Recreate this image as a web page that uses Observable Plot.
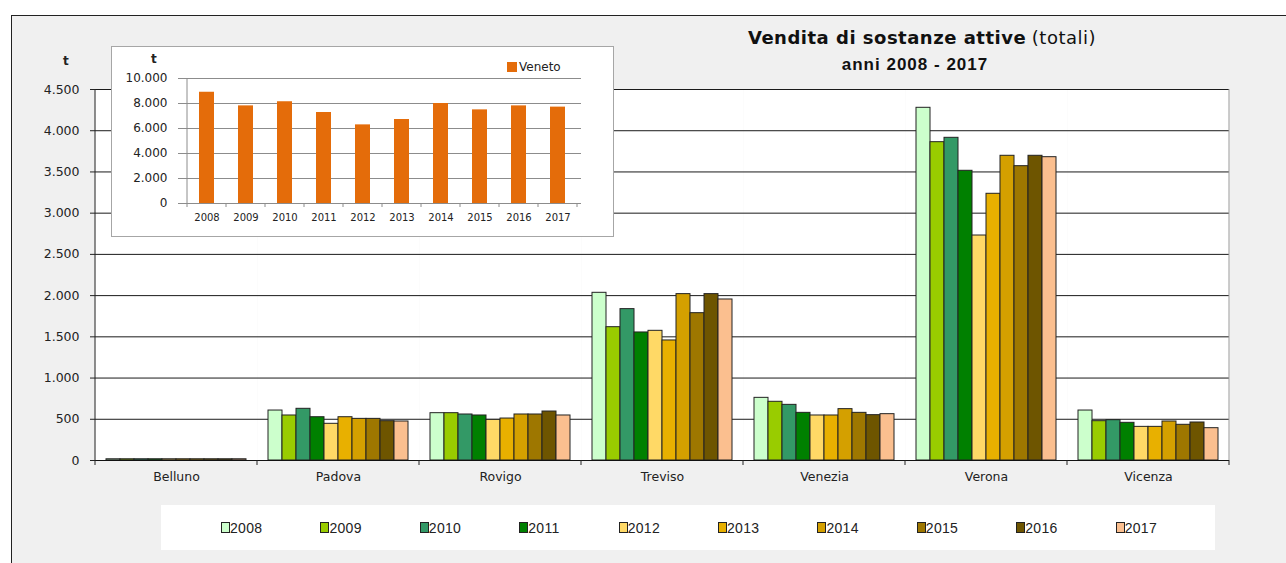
<!DOCTYPE html>
<html><head><meta charset="utf-8">
<script src="https://cdn.jsdelivr.net/npm/d3@7"></script>
<script src="https://cdn.jsdelivr.net/npm/@observablehq/plot@0.6"></script>
<style>
body{margin:0;background:#fff;}
#root{position:relative;width:1286px;height:563px;overflow:hidden;background:#fff;font-family:"DejaVu Sans",sans-serif;color:#222;}
#frame{position:absolute;left:11px;top:15px;right:-5px;bottom:-5px;border-left:1px solid #222;border-top:1px solid #222;background:#f0f0f0;}
.abs{position:absolute;white-space:nowrap;line-height:1;}
#main{position:absolute;left:0;top:0;}
#inset{position:absolute;left:111px;top:46px;border:1px solid #a6a6a6;}
#legend{position:absolute;left:161px;top:505px;width:1054px;height:45px;background:#fff;display:flex;align-items:center;padding-left:60px;box-sizing:border-box;}
.li{width:100.4px;display:flex;align-items:center;font-family:"Liberation Sans",sans-serif;font-size:14px;letter-spacing:0.3px;color:#222;}
.sw{width:7px;height:9px;border:1px solid #222;margin-right:0px;}
</style></head><body>
<div id="root"><div id="frame"></div></div>
<script>
const provinces = ["Belluno","Padova","Rovigo","Treviso","Venezia","Verona","Vicenza"];
const years = ["2008","2009","2010","2011","2012","2013","2014","2015","2016","2017"];
const belluno = [15,15,15,15,15,15,15,15,15,15];
const padova  = [606,546,627,525,445,525,505,505,477,473];
const rovigo  = [574,574,558,546,493,509,558,558,594,546];
const treviso = [2034,1617,1836,1553,1573,1456,2018,1787,2018,1953];
const venezia = [760,712,675,578,546,546,623,578,550,562];
const verona  = [4278,3861,3914,3514,2729,3235,3696,3570,3696,3679];
const vicenza = [606,477,489,457,408,408,473,433,461,392];
const veneto  = [8900,7810,8140,7280,6290,6720,8000,7490,7810,7710];
const yearColors = ["#ccffcc","#99cc00","#339966","#008000","#ffd966","#e8b000","#d4a000","#9e7700","#6e5500","#fbbf8f"];
const mainTicks = [0,500,1000,1500,2000,2500,3000,3500,4000,4500];
const insetTicks = [0,2000,4000,6000,8000,10000];
const titleText = "Vendita di sostanze attive";
const titleNote = "(totali)";
const subtitleText = "anni 2008 - 2017";
const unitLabel = "t";
const insetSeriesName = "Veneto";

const seriesByProv = [belluno,padova,rovigo,treviso,venezia,verona,vicenza];
const rows = [];
provinces.forEach((p,i)=>seriesByProv[i].forEach((v,j)=>rows.push({prov:p,year:years[j],value:v})));
const venetoRows = years.map((y,j)=>({year:y,value:veneto[j]}));
const fmt = d => d3.format(",")(d).replace(/,/g,".");

const root = document.getElementById("root");

const main = Plot.plot({
  width:1286, height:563,
  marginLeft:94, marginRight:57, marginTop:89, marginBottom:103,
  style:{background:"transparent", fontFamily:"DejaVu Sans", fontSize:"12.5px", color:"#222", overflow:"visible"},
  fx:{domain:provinces, paddingInner:0, paddingOuter:0, label:null, axis:null},
  x:{domain:years, paddingInner:0, paddingOuter:0.75, axis:null},
  y:{domain:[0,4500], label:null},
  color:{domain:years, range:yearColors},
  marks:[
    Plot.frame({fill:"white", stroke:"none"}),
    Plot.gridY(mainTicks, {stroke:"#1a1a1a", strokeOpacity:1}),
    Plot.barY(rows, {fx:"prov", x:"year", y:"value", fill:"year", stroke:"#222", strokeWidth:1}),
    Plot.ruleY([0], {stroke:"#111"}),
    Plot.axisY(mainTicks, {tickFormat:fmt, tickSize:5, tickPadding:11, stroke:"#222", label:null}),
    Plot.axisFx({anchor:"bottom", tickSize:0, tickPadding:12, label:null})
  ]
});
main.id = "main";
root.appendChild(main);
{
  const fxS = main.scale("fx"), yS = main.scale("y");
  const g = d3.select(main).append("g").attr("stroke","#222").attr("fill","none");
  const edges = provinces.map(p=>fxS.apply(p));
  const right = fxS.apply(provinces[provinces.length-1]) + fxS.bandwidth;
  edges.push(right);
  const y0 = yS.apply(0), yTop = yS.apply(4500);
  edges.forEach(x=>g.append("line").attr("x1",x).attr("x2",x).attr("y1",y0).attr("y2",y0+5));
  g.append("line").attr("x1",edges[0]).attr("x2",edges[0]).attr("y1",yTop).attr("y2",y0);
  g.append("line").attr("x1",right).attr("x2",right).attr("y1",yTop).attr("y2",y0).attr("stroke","#999");
}

const inset = Plot.plot({
  width:501, height:189, marginLeft:70, marginRight:32, marginTop:31, marginBottom:33,
  style:{background:"white", fontFamily:"DejaVu Sans", fontSize:"12px", color:"#222"},
  x:{domain:years, padding:0, label:null},
  y:{domain:[0,10000], label:null},
  marks:[
    Plot.gridY(insetTicks, {stroke:"#8c8c8c", strokeOpacity:1}),
    Plot.barY(venetoRows, {x:"year", y:"value", fill:"#e46c0a", insetLeft:12, insetRight:12}),
    Plot.ruleY([0], {stroke:"#8c8c8c"}),
    Plot.axisY(insetTicks, {tickFormat:fmt, tickSize:4, tickPadding:11, stroke:"#8c8c8c", label:null}),
    Plot.axisX({tickSize:0, tickPadding:10, fontSize:10, label:null})
  ]
});
inset.id = "inset";
root.appendChild(inset);
{
  const xS = inset.scale("x"), yS = inset.scale("y");
  const g = d3.select(inset).append("g").attr("stroke","#8c8c8c").attr("fill","none");
  const edges = years.map(y=>xS.apply(y));
  edges.push(xS.apply(years[years.length-1]) + xS.bandwidth);
  const y0 = yS.apply(0), yTop = yS.apply(10000);
  edges.forEach(x=>g.append("line").attr("x1",x).attr("x2",x).attr("y1",y0).attr("y2",y0+4));
  g.append("line").attr("x1",edges[0]).attr("x2",edges[0]).attr("y1",yTop).attr("y2",y0);
}

function addText(html, style){
  const d = document.createElement("div");
  d.className = "abs";
  d.innerHTML = html;
  Object.assign(d.style, style);
  root.appendChild(d);
  return d;
}
addText(`<span style="font-weight:bold;letter-spacing:0.5px">${titleText}</span> <span style="font-weight:normal;letter-spacing:0.5px">${titleNote}</span>`,
  {left:"622px", width:"600px", textAlign:"center", top:"29px", fontSize:"18px", color:"#111"});
addText(subtitleText, {left:"715px", width:"400px", textAlign:"center", top:"56px", fontSize:"17px", fontWeight:"bold", letterSpacing:"1px", fontFamily:"Liberation Sans", color:"#111"});
addText(unitLabel, {left:"63px", top:"55px", fontSize:"12px", fontWeight:"bold"});
addText(unitLabel, {left:"151px", top:"53px", fontSize:"12px", fontWeight:"bold"});
addText(`<span style="display:inline-block;width:10px;height:10px;background:#e46c0a;vertical-align:-1px;margin-right:2px"></span>${insetSeriesName}`,
  {left:"507px", top:"61px", fontSize:"12px"});

const legend = document.createElement("div");
legend.id = "legend";
years.forEach((y,i)=>{
  const it = document.createElement("div");
  it.className = "li";
  it.innerHTML = `<span class="sw" style="background:${yearColors[i]}"></span><span>${y}</span>`;
  legend.appendChild(it);
});
root.appendChild(legend);
</script>
</body></html>
